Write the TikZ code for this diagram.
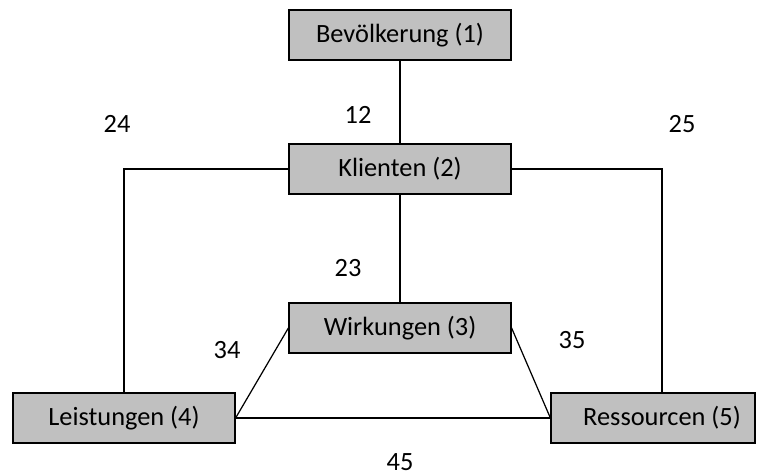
\documentclass[tikz,border=0pt]{standalone}
\usepackage{fontspec}
\setmainfont{Carlito}
\usetikzlibrary{calc,positioning}
\definecolor{boxgray}{RGB}{192,192,192}

\begin{document}
\begin{tikzpicture}[every node/.style={font=\fontsize{15}{17}\selectfont},
  kasten/.style={draw, fill=boxgray, line width=0.7pt, minimum width=4.44cm, minimum height=1cm, inner sep=0pt},
  linie/.style={line width=0.7pt}]

\useasboundingbox (0,0) rectangle (15.2,9.5);

% BOXES
\node[kasten] (bev) at (8.0, 8.8) {Bevölkerung (1)};
\node[kasten] (kli) at (8.0, 6.12) {Klienten (2)};
\node[kasten] (wir) at (8.0, 2.94) {Wirkungen (3)};
\node[kasten] (lei) at (2.48, 1.14) {Leistungen (4)};
\node[kasten, minimum width=4.08cm] (res) at (13.06, 1.14) {\hspace*{0.36cm}Ressourcen (5)};
\coordinate (res-top) at (13.24, 1.64);

% CONNECTIONS
\draw[linie] (bev) -- (kli);
\draw[linie] (kli) -- (wir);
\draw[linie] (kli.west) -| (lei.north);
\draw[linie] (kli.east) -| (res-top);
\draw[linie] (wir.west) -- (lei.east);
\draw[linie] (wir.east) -- (res.west);
\draw[linie] (lei.east) -- (res.west);

% NUMBERS
\node (n12) at (7.16, 7.2) {12};
\node (n24) at (2.34, 7.02) {24};
\node (n25) at (13.64, 7.02) {25};
\node (n23) at (6.96, 4.14) {23};
\node (n34) at (4.54, 2.5) {34};
\node (n35) at (11.44, 2.7) {35};
\node (n45) at (8.0, 0.26) {45};

\end{tikzpicture}
\end{document}
